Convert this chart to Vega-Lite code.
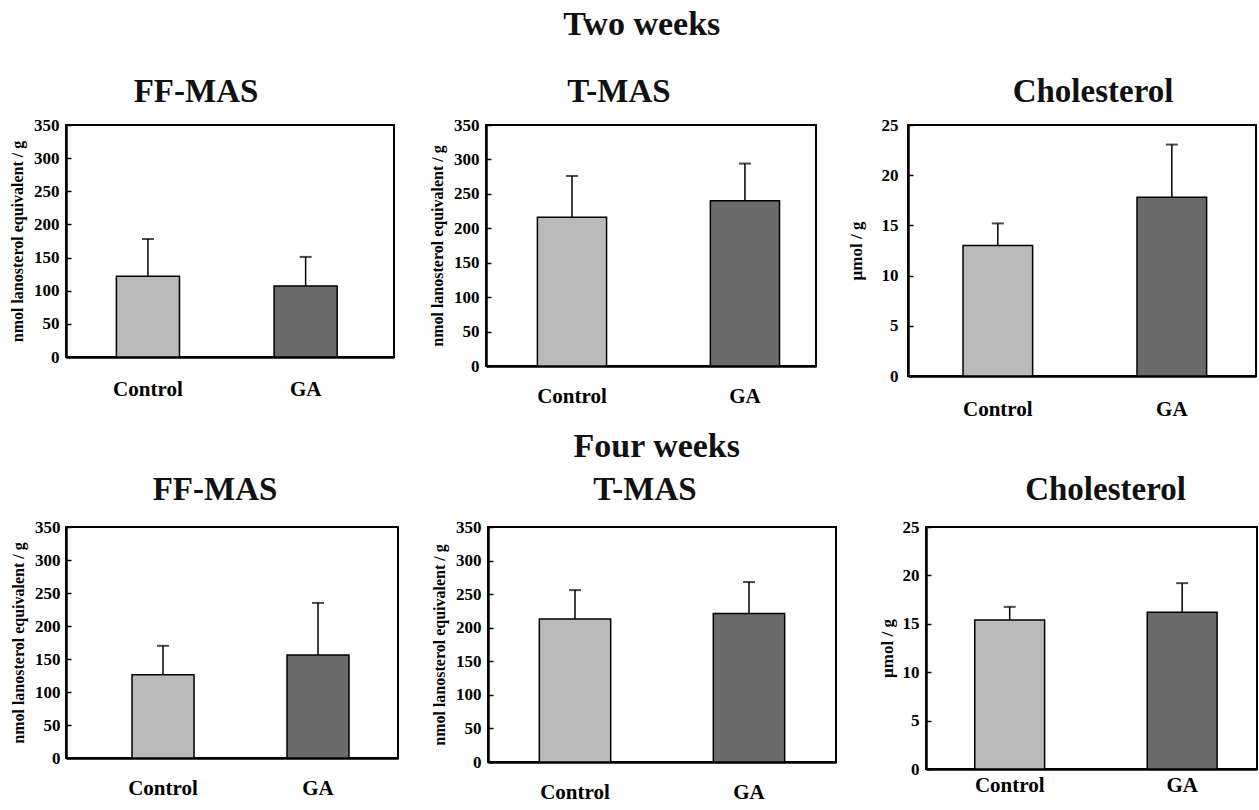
{
  "$schema": "https://vega.github.io/schema/vega-lite/v6.json",
  "background": "white",
  "padding": {"left": 8, "top": 8, "right": 1, "bottom": 2},
  "datasets": {
    "bars": [
      {"period": "Two weeks", "analyte": "FF-MAS", "group": "Control", "mean": 122, "upper": 178},
      {"period": "Two weeks", "analyte": "FF-MAS", "group": "GA", "mean": 107, "upper": 151},
      {"period": "Two weeks", "analyte": "T-MAS", "group": "Control", "mean": 216, "upper": 276},
      {"period": "Two weeks", "analyte": "T-MAS", "group": "GA", "mean": 240, "upper": 294},
      {"period": "Two weeks", "analyte": "Cholesterol", "group": "Control", "mean": 13.0, "upper": 15.2},
      {"period": "Two weeks", "analyte": "Cholesterol", "group": "GA", "mean": 17.8, "upper": 23.05},
      {"period": "Four weeks", "analyte": "FF-MAS", "group": "Control", "mean": 126, "upper": 170},
      {"period": "Four weeks", "analyte": "FF-MAS", "group": "GA", "mean": 156, "upper": 235},
      {"period": "Four weeks", "analyte": "T-MAS", "group": "Control", "mean": 213, "upper": 256},
      {"period": "Four weeks", "analyte": "T-MAS", "group": "GA", "mean": 221, "upper": 268},
      {"period": "Four weeks", "analyte": "Cholesterol", "group": "Control", "mean": 15.4, "upper": 16.75},
      {"period": "Four weeks", "analyte": "Cholesterol", "group": "GA", "mean": 16.2, "upper": 19.2}
    ]
  },
  "config": {
    "font": "Liberation Serif",
    "view": {"stroke": "black", "strokeWidth": 2},
    "title": {"fontSize": 33, "fontWeight": "bold", "color": "#111111"},
    "axis": {"domainColor": "black", "domainWidth": 2.5, "labelColor": "black", "titleColor": "black", "labelFontWeight": "bold", "titleFontWeight": "bold", "grid": false, "tickColor": "black", "labelFlush": false},
    "axisX": {"title": null, "labelAngle": 0, "ticks": false, "labelFontSize": 21},
    "axisY": {"tickSize": -5, "tickWidth": 1.5, "labelPadding": 12, "labelFontSize": 17, "titleFontSize": 16, "titlePadding": 8, "labelOverlap": false},
    "bar": {"stroke": "black", "strokeWidth": 1.5},
    "rule": {"strokeWidth": 1.5, "color": "black"},
    "tick": {"thickness": 2, "color": "black"}
  },
  "spacing": 10,
  "vconcat": [
    {
      "title": {"text": "Two weeks", "fontSize": 34, "anchor": "middle", "offset": 33, "dx": 9},
      "bounds": "flush",
      "spacing": 92,
      "hconcat": [
        {
          "width": 328, "height": 232,
          "title": {"text": "FF-MAS", "offset": 7, "dx": -34},
          "data": {"name": "bars"},
          "transform": [{"filter": "datum.period == 'Two weeks' && datum.analyte == 'FF-MAS'"}],
          "encoding": {
            "x": {"field": "group", "type": "nominal", "sort": ["Control", "GA"], "scale": {"paddingInner": 0.6, "paddingOuter": 0.34, "align": 0.47}, "axis": {"labelPadding": 21}},
            "y": {"field": "mean", "type": "quantitative", "scale": {"domain": [0, 350], "nice": false}, "axis": {"title": "nmol lanosterol equivalent / g", "values": [0, 50, 100, 150, 200, 250, 300, 350], "labelOverlap": false}}
          },
          "layer": [
            {"mark": "bar", "encoding": {"color": {"field": "group", "type": "nominal", "scale": {"domain": ["Control", "GA"], "range": ["#bababa", "#6b6b6b"]}, "legend": null}}},
            {"mark": "rule", "encoding": {"y2": {"field": "upper"}}},
            {"mark": {"type": "tick", "size": 12}, "encoding": {"y": {"field": "upper", "type": "quantitative", "axis": {"title": "nmol lanosterol equivalent / g", "values": [0, 50, 100, 150, 200, 250, 300, 350], "labelOverlap": false}}}}
          ]
        },
        {
          "width": 330, "height": 241,
          "title": {"text": "T-MAS", "offset": 7, "dx": -32},
          "data": {"name": "bars"},
          "transform": [{"filter": "datum.period == 'Two weeks' && datum.analyte == 'T-MAS'"}],
          "encoding": {
            "x": {"field": "group", "type": "nominal", "sort": ["Control", "GA"], "scale": {"paddingInner": 0.6, "paddingOuter": 0.254, "align": 0.585}, "axis": {"labelPadding": 19}},
            "y": {"field": "mean", "type": "quantitative", "scale": {"domain": [0, 350], "nice": false}, "axis": {"title": "nmol lanosterol equivalent / g", "values": [0, 50, 100, 150, 200, 250, 300, 350], "labelOverlap": false}}
          },
          "layer": [
            {"mark": "bar", "encoding": {"color": {"field": "group", "type": "nominal", "scale": {"domain": ["Control", "GA"], "range": ["#bababa", "#6b6b6b"]}, "legend": null}}},
            {"mark": "rule", "encoding": {"y2": {"field": "upper"}}},
            {"mark": {"type": "tick", "size": 12}, "encoding": {"y": {"field": "upper", "type": "quantitative", "axis": {"title": "nmol lanosterol equivalent / g", "values": [0, 50, 100, 150, 200, 250, 300, 350], "labelOverlap": false}}}}
          ]
        },
        {
          "width": 348, "height": 251,
          "title": {"text": "Cholesterol", "offset": 7, "dx": 11},
          "data": {"name": "bars"},
          "transform": [{"filter": "datum.period == 'Two weeks' && datum.analyte == 'Cholesterol'"}],
          "encoding": {
            "x": {"field": "group", "type": "nominal", "sort": ["Control", "GA"], "scale": {"paddingInner": 0.6, "paddingOuter": 0.3, "align": 0.527}, "axis": {"labelPadding": 22}},
            "y": {"field": "mean", "type": "quantitative", "scale": {"domain": [0, 25], "nice": false}, "axis": {"title": "µmol / g", "values": [0, 5, 10, 15, 20, 25], "labelOverlap": false, "labelPadding": 15, "titleFontSize": 17, "titlePadding": 16}}
          },
          "layer": [
            {"mark": "bar", "encoding": {"color": {"field": "group", "type": "nominal", "scale": {"domain": ["Control", "GA"], "range": ["#bababa", "#6b6b6b"]}, "legend": null}}},
            {"mark": "rule", "encoding": {"y2": {"field": "upper"}}},
            {"mark": {"type": "tick", "size": 12}, "encoding": {"y": {"field": "upper", "type": "quantitative", "axis": {"title": "µmol / g", "values": [0, 5, 10, 15, 20, 25], "labelOverlap": false, "labelPadding": 15, "titleFontSize": 17, "titlePadding": 16}}}}
          ]
        }
      ]
    },
    {
      "title": {"text": "Four weeks", "fontSize": 34, "anchor": "middle", "offset": 9, "dx": 23},
      "bounds": "flush",
      "spacing": 90,
      "hconcat": [
        {
          "width": 332, "height": 231,
          "title": {"text": "FF-MAS", "offset": 11, "dx": -17},
          "data": {"name": "bars"},
          "transform": [{"filter": "datum.period == 'Four weeks' && datum.analyte == 'FF-MAS'"}],
          "encoding": {
            "x": {"field": "group", "type": "nominal", "sort": ["Control", "GA"], "scale": {"paddingInner": 0.6, "paddingOuter": 0.371, "align": 0.574}, "axis": {"labelPadding": 19}},
            "y": {"field": "mean", "type": "quantitative", "scale": {"domain": [0, 350], "nice": false}, "axis": {"title": "nmol  lanosterol equivalent / g", "values": [0, 50, 100, 150, 200, 250, 300, 350], "labelOverlap": false, "labelPadding": 11}}
          },
          "layer": [
            {"mark": "bar", "encoding": {"color": {"field": "group", "type": "nominal", "scale": {"domain": ["Control", "GA"], "range": ["#bababa", "#6b6b6b"]}, "legend": null}}},
            {"mark": "rule", "encoding": {"y2": {"field": "upper"}}},
            {"mark": {"type": "tick", "size": 12}, "encoding": {"y": {"field": "upper", "type": "quantitative", "axis": {"title": "nmol  lanosterol equivalent / g", "values": [0, 50, 100, 150, 200, 250, 300, 350], "labelOverlap": false, "labelPadding": 11}}}}
          ]
        },
        {
          "width": 348, "height": 235,
          "title": {"text": "T-MAS", "offset": 11, "dx": -17},
          "data": {"name": "bars"},
          "transform": [{"filter": "datum.period == 'Four weeks' && datum.analyte == 'T-MAS'"}],
          "encoding": {
            "x": {"field": "group", "type": "nominal", "sort": ["Control", "GA"], "scale": {"paddingInner": 0.59, "paddingOuter": 0.295, "align": 0.5}, "axis": {"labelPadding": 19}},
            "y": {"field": "mean", "type": "quantitative", "scale": {"domain": [0, 350], "nice": false}, "axis": {"title": "nmol lanosterol equivalent / g", "values": [0, 50, 100, 150, 200, 250, 300, 350], "labelOverlap": false}}
          },
          "layer": [
            {"mark": "bar", "encoding": {"color": {"field": "group", "type": "nominal", "scale": {"domain": ["Control", "GA"], "range": ["#bababa", "#6b6b6b"]}, "legend": null}}},
            {"mark": "rule", "encoding": {"y2": {"field": "upper"}}},
            {"mark": {"type": "tick", "size": 12}, "encoding": {"y": {"field": "upper", "type": "quantitative", "axis": {"title": "nmol lanosterol equivalent / g", "values": [0, 50, 100, 150, 200, 250, 300, 350], "labelOverlap": false}}}}
          ]
        },
        {
          "width": 331, "height": 242,
          "title": {"text": "Cholesterol", "offset": 11, "dx": 14},
          "data": {"name": "bars"},
          "transform": [{"filter": "datum.period == 'Four weeks' && datum.analyte == 'Cholesterol'"}],
          "encoding": {
            "x": {"field": "group", "type": "nominal", "sort": ["Control", "GA"], "scale": {"paddingInner": 0.595, "paddingOuter": 0.257, "align": 0.55}, "axis": {"labelPadding": 5}},
            "y": {"field": "mean", "type": "quantitative", "scale": {"domain": [0, 25], "nice": false}, "axis": {"title": "µmol / g", "values": [0, 5, 10, 15, 20, 25], "labelOverlap": false, "labelPadding": 12, "titleFontSize": 17, "titlePadding": 6}}
          },
          "layer": [
            {"mark": "bar", "encoding": {"color": {"field": "group", "type": "nominal", "scale": {"domain": ["Control", "GA"], "range": ["#bababa", "#6b6b6b"]}, "legend": null}}},
            {"mark": "rule", "encoding": {"y2": {"field": "upper"}}},
            {"mark": {"type": "tick", "size": 12}, "encoding": {"y": {"field": "upper", "type": "quantitative", "axis": {"title": "µmol / g", "values": [0, 5, 10, 15, 20, 25], "labelOverlap": false, "labelPadding": 12, "titleFontSize": 17, "titlePadding": 6}}}}
          ]
        }
      ]
    }
  ]
}
